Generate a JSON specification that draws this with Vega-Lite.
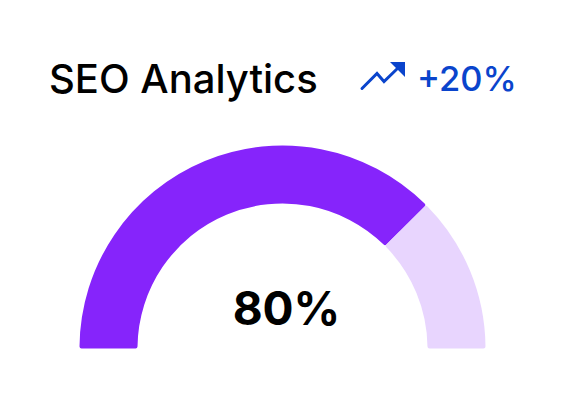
{"$schema":"https://vega.github.io/schema/vega-lite/v6.json","width":565,"height":418,"padding":0,"autosize":{"type":"none"},"background":"white","view":{"stroke":null},"config":{"axis":{"domain":false,"grid":false,"ticks":false,"labels":false,"title":null}},
"layer":[
{"data":{"values":[{"segment":"Reached","from":0,"to":75,"cx":282.5,"cy":348.5},{"segment":"Remaining","from":75,"to":100,"cx":282.5,"cy":348.5}]},
"mark":{"type":"arc","innerRadius":145,"outerRadius":203,"cornerRadius":2},
"encoding":{"theta":{"field":"from","type":"quantitative","scale":{"domain":[0,100],"range":[-1.5708,1.5708]}},"theta2":{"field":"to"},
"x":{"field":"cx","type":"quantitative","scale":{"domain":[0,565],"nice":false,"zero":false},"axis":null},
"y":{"field":"cy","type":"quantitative","scale":{"domain":[418,0],"nice":false,"zero":false},"axis":null},
"color":{"field":"segment","type":"nominal","scale":{"domain":["Reached","Remaining"],"range":["#8624FB","#E8D5FE"]},"legend":null}}},
{"data":{"values":[{"t":"SEO Analytics","x":49,"y":93}]},"mark":{"type":"text","align":"left","baseline":"alphabetic","font":"Inter","fontSize":40,"fontWeight":500,"color":"#000000"},"encoding":{"text":{"field":"t"},"x":{"field":"x","type":"quantitative"},"y":{"field":"y","type":"quantitative"}}},
{"data":{"values":[{"t":"+20%","x":417,"y":90.5}]},"mark":{"type":"text","align":"left","baseline":"alphabetic","font":"Inter","fontSize":34.5,"fontWeight":500,"color":"#0A44CC"},"encoding":{"text":{"field":"t"},"x":{"field":"x","type":"quantitative"},"y":{"field":"y","type":"quantitative"}}},
{"data":{"values":[{"t":"80%","x":286.5,"y":325}]},"mark":{"type":"text","align":"center","baseline":"alphabetic","font":"Inter","fontSize":46,"fontWeight":700,"color":"#000000"},"encoding":{"text":{"field":"t"},"x":{"field":"x","type":"quantitative"},"y":{"field":"y","type":"quantitative"}}},
{"data":{"values":[{"x":362,"y":88.5},{"x":377,"y":73.5},{"x":384,"y":81.5},{"x":399,"y":67}]},"mark":{"type":"line","color":"#0A44CC","strokeWidth":3,"strokeCap":"round","strokeJoin":"miter"},"encoding":{"x":{"field":"x","type":"quantitative"},"y":{"field":"y","type":"quantitative"},"order":{"field":"x"}}},
{"data":{"values":[{"x":390,"y":62,"y2":62},{"x":405,"y":62,"y2":77}]},"mark":{"type":"area","color":"#0A44CC"},"encoding":{"x":{"field":"x","type":"quantitative"},"y":{"field":"y","type":"quantitative"},"y2":{"field":"y2"}}}
]}
